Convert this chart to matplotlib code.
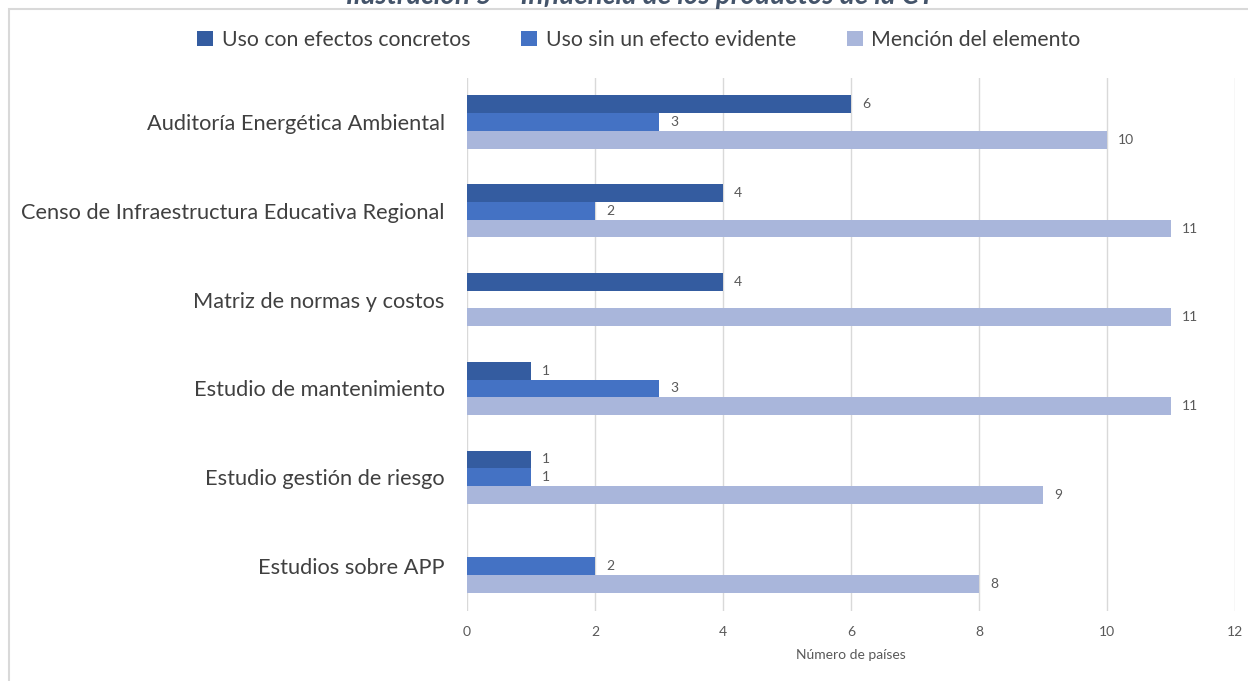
import matplotlib
matplotlib.use("Agg")
import matplotlib.pyplot as plt
from matplotlib.patches import Rectangle
import numpy as np

categories = ["Auditoría Energética Ambiental",
              "Censo de Infraestructura Educativa Regional",
              "Matriz de normas y costos",
              "Estudio de mantenimiento",
              "Estudio gestión de riesgo",
              "Estudios sobre APP"]
series_names = ["Uso con efectos concretos", "Uso sin un efecto evidente", "Mención del elemento"]
uso_concreto = [6, 4, 4, 1, 1, 0]
uso_sin_efecto = [3, 2, 0, 3, 1, 2]
mencion = [10, 11, 11, 11, 9, 8]
x_ticks = [0, 2, 4, 6, 8, 10, 12]

colors = ["#345CA0", "#4472C4", "#A9B6DB"]
W, H = 1248, 681
fig = plt.figure(figsize=(W/100, H/100), dpi=100)
fontfam = ["Lato", "DejaVu Sans"]

# outer frame
fig.patches.append(Rectangle((9/W, -0.2), 1.2, 1 - 9/H + 0.2, transform=fig.transFigure,
                             fill=False, edgecolor="#D9D9D9", lw=1.5))
# title (cut off at the top edge, as in the reference)
fig.text(640/W, 1 - 4/H, "Ilustración 5 – Influencia de los productos de la CT",
         ha="center", va="baseline", fontsize=20, fontweight="bold", fontstyle="italic",
         color="#44546A", family=fontfam)

ax = fig.add_axes([467/W, 1 - 610.5/H, (1235-467)/W, (610.5-77.5)/H])
y = np.arange(len(categories))
h = 0.2
series = [uso_concreto, uso_sin_efecto, mencion]
offsets = [-h, 0, h]
for vals, off, c, name in zip(series, offsets, colors, series_names):
    ax.barh(y + off, vals, height=h, color=c, label=name, zorder=3)
    for yi, v in zip(y, vals):
        if v:
            ax.text(v + 0.17, yi + off, str(v), va="center", ha="left",
                    fontsize=10, color="#595959", family=fontfam)

ax.set_xlim(0, 12)
ax.set_ylim(len(categories) - 0.5, -0.5)
ax.set_xticks(x_ticks)
ax.set_xticklabels([str(t) for t in x_ticks], fontsize=10, color="#595959", family=fontfam)
ax.set_yticks(y)
ax.set_yticklabels(categories, fontsize=15.7, color="#404040", family=fontfam)
ax.tick_params(axis="both", length=0)
ax.tick_params(axis="y", pad=16)
ax.tick_params(axis="x", pad=11)
ax.grid(axis="x", color="#D9D9D9", lw=1, zorder=0)
for s in ax.spines.values():
    s.set_visible(False)
ax.set_xlabel("Número de países", fontsize=10, color="#595959", family=fontfam, labelpad=8)

handles, labels = ax.get_legend_handles_labels()
leg = fig.legend(handles, labels, loc="center", bbox_to_anchor=(639/W, 1 - 40/H), ncol=3,
                 frameon=False, handlelength=0.75, handleheight=0.75,
                 handletextpad=0.4, columnspacing=2.4, prop={"family": fontfam, "size": 15.3})
for t in leg.get_texts():
    t.set_color("#404040")

fig.savefig("out.png", dpi=100)
